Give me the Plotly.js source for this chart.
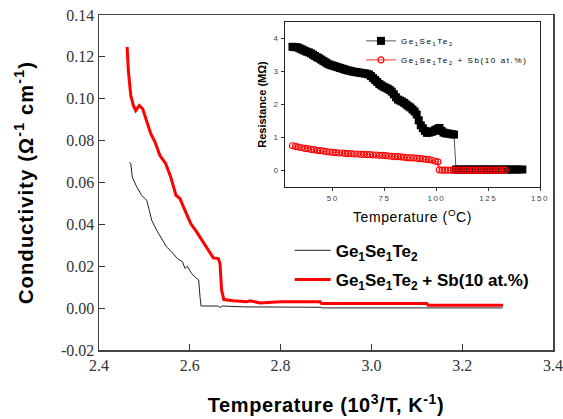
<!DOCTYPE html>
<html><head><meta charset="utf-8">
<script src="https://cdn.plot.ly/plotly-3.0.1.min.js"></script>
<style>
body{margin:0;background:#fff;}
.legend2 text{letter-spacing:1.6px;}
.legend2 .scrollbox,.legend .scrollbox{clip-path:none !important;}
.x2tick text,.y2tick text{letter-spacing:1.5px;}
.g-ytitle text{letter-spacing:1.2px;}
.g-xtitle text{letter-spacing:0.6px;}
.g-x2title text{letter-spacing:0.6px;}
</style>
</head><body>
<div id="chart" style="width:563px;height:419px;"></div>
<script>
// ---- main plot data (conductivity vs 10^3/T) ----
const seriesNames = ["Ge<sub>1</sub>Se<sub>1</sub>Te<sub>2</sub>", "Ge<sub>1</sub>Se<sub>1</sub>Te<sub>2</sub> + Sb(10 at.%)"];
const blackX = [2.4668,2.470,2.4734,2.483,2.494,2.505,2.5108,2.516,2.527,2.538,2.549,2.560,2.5725,2.584,2.5894,2.5945,2.604,2.615,2.6196,2.6225,2.6247,2.6628,2.6665,2.672,2.718,2.889,2.892,3.289];
const blackY = [0.0698,0.0690,0.0626,0.0579,0.0539,0.0515,0.0467,0.0420,0.0372,0.0332,0.0292,0.0269,0.0237,0.0221,0.0189,0.0200,0.0165,0.0142,0.0134,0.0054,0.0010,0.0010,0.0003,0.0010,0.0006,0.0004,0.0001,0.0001];
const redX = [2.462,2.4646,2.470,2.4756,2.481,2.4888,2.4962,2.505,2.514,2.5234,2.534,2.5469,2.558,2.5696,2.5784,2.5894,2.602,2.615,2.6297,2.6445,2.6518,2.6628,2.6665,2.670,2.675,2.696,2.725,2.7326,2.7546,2.799,2.887,2.89,3.122,3.125,3.29];
const redY = [0.1247,0.1135,0.1016,0.0968,0.0944,0.0968,0.0952,0.0889,0.0833,0.0793,0.0730,0.0690,0.0626,0.0539,0.0523,0.0467,0.0404,0.0364,0.0316,0.0269,0.0240,0.0237,0.0213,0.0086,0.0041,0.0035,0.0030,0.0035,0.0025,0.0030,0.0030,0.0022,0.0022,0.0014,0.0014];
const mainYTicks = [-0.02,0,0.02,0.04,0.06,0.08,0.10,0.12,0.14];
const mainYTickText = ["-0.02","0.00","0.02","0.04","0.06","0.08","0.10","0.12","0.14"];
// ---- inset data (resistance vs temperature) ----
const insetBlackX = [30.6,31.5,32.5,33.5,34.5,35.5,36.5,37.5,38.5,39.5,40.5,41.5,42.5,43.5,44.5,45.5,46.5,47.5,48.5,49.5,50.5,51.5,52.5,53.5,54.5,55.5,56.5,57.5,58.5,59.5,60.5,61.5,62.5,63.5,64.5,65.5,66.5,67.5,68.5,69.5,70.5,71.5,72.5,73.5,74.5,75.5,76.5,77.5,78.5,79.5,80.5,81.5,82.5,83.5,84.5,85.5,86.5,87.5,88.5,89.5,90.5,91.5,92.5,93.5,94.5,95.5,96.5,97.5,98.5,99.5,100.5,101.5,102.5,103.5,104.5,105.5,106.5,107.5,108.5,109.5,111,112.5,114,115.5,117,118.5,120,121.5,123,124.5,126,127.5,129,130.5,132,133.5,135,136.5,138,139.5,141.5];
const insetBlackY = [3.75,3.74,3.74,3.72,3.69,3.66,3.63,3.60,3.58,3.55,3.51,3.47,3.43,3.40,3.36,3.32,3.28,3.24,3.21,3.19,3.17,3.15,3.13,3.11,3.09,3.07,3.05,3.03,3.02,3.00,2.99,2.98,2.97,2.96,2.95,2.94,2.93,2.91,2.86,2.80,2.74,2.68,2.62,2.58,2.54,2.51,2.48,2.44,2.39,2.31,2.22,2.15,2.12,2.09,2.05,2.00,1.95,1.91,1.85,1.79,1.70,1.52,1.37,1.28,1.20,1.14,1.15,1.17,1.19,1.23,1.26,1.29,1.20,1.15,1.13,1.12,1.11,1.10,1.09,0.03,0.03,0.03,0.03,0.03,0.03,0.03,0.03,0.03,0.03,0.03,0.03,0.03,0.03,0.03,0.03,0.03,0.03,0.03,0.03,0.03,0.03];
const insetRedX = [30.6,32,33.5,35,36.5,38,39.5,41,42.5,44,45.5,47,48.5,50,51.5,53,54.5,56,57.5,59,60.5,62,63.5,65,66.5,68,69.5,71,72.5,74,75.5,77,78.5,80,81.5,83,84.5,86,87.5,89,90.5,92,93.5,95,96.5,98,99.5,100.8,101.4,102.8,104.2,105.6,107,108.4,109.8,111.2,112.6,114,115.4,116.8,118.2,119.6,121,122.4,123.8,125.2,126.6,128,129.4,130.8,132.2,133.2];
const insetRedY = [0.75,0.73,0.71,0.69,0.67,0.66,0.64,0.63,0.61,0.60,0.59,0.57,0.56,0.55,0.54,0.53,0.53,0.52,0.51,0.51,0.50,0.50,0.49,0.49,0.48,0.48,0.47,0.47,0.46,0.46,0.45,0.44,0.43,0.42,0.42,0.41,0.40,0.39,0.38,0.38,0.37,0.36,0.35,0.34,0.33,0.31,0.28,0.26,0.02,0.01,0.01,0.01,0.01,0.01,0.01,0.01,0.01,0.01,0.01,0.01,0.01,0.01,0.01,0.01,0.01,0.01,0.01,0.01,0.01,0.01,0.01,0.01];
const insetXTicks = [50, 75, 100, 125, 150];
const insetYTicks = [0, 1, 2, 3, 4];

const sans = "Arial";
const serif = "Times New Roman";

const traces = [
  {x: blackX, y: blackY, mode: 'lines', name: seriesNames[0], line: {color: '#222', width: 1}, legend: 'legend', legendgroup: 'a'},
  {x: redX, y: redY, mode: 'lines', name: seriesNames[1], line: {color: '#ff0000', width: 3}, legend: 'legend', legendgroup: 'b'},
  {x: insetBlackX, y: insetBlackY, xaxis: 'x2', yaxis: 'y2', mode: 'lines+markers', name: seriesNames[0],
   line: {color: '#555', width: 1}, marker: {symbol: 'square', size: 8, color: '#000'}, legend: 'legend2'},
  {x: insetRedX, y: insetRedY, xaxis: 'x2', yaxis: 'y2', mode: 'lines+markers', name: seriesNames[1],
   line: {color: '#ff3030', width: 1}, marker: {symbol: 'circle-open', size: 6, color: '#ff0000', line: {width: 1.2}}, legend: 'legend2'}
];

const layout = {
  width: 563, height: 419,
  margin: {l: 99, r: 10, t: 15, b: 69},
  paper_bgcolor: '#fff', plot_bgcolor: '#fff',
  showlegend: true,
  xaxis: {
    domain: [0, 1], range: [2.4, 3.4], dtick: 0.2, tick0: 2.4, tickformat: '.1f',
    ticks: 'inside', ticklen: 6, tickcolor: '#333', showgrid: false, zeroline: false,
    showline: true, linecolor: '#444', linewidth: 1.5, mirror: true,
    tickfont: {family: serif, size: 16, color: '#333'},
    title: {text: 'Temperature (10<sup>3</sup>/T, K<sup>-1</sup>)', font: {family: sans, size: 20, weight: 'bold', color: '#000'}, standoff: 25}
  },
  yaxis: {
    domain: [0, 1], range: [-0.02, 0.14], tickvals: mainYTicks, ticktext: mainYTickText,
    ticks: 'inside', ticklen: 6, tickcolor: '#333', showgrid: false, zeroline: false,
    showline: true, linecolor: '#444', linewidth: 1.5, mirror: true,
    tickfont: {family: serif, size: 16, color: '#333'},
    title: {text: 'Conductivity (Ω<sup>-1</sup> cm<sup>-1</sup>)', font: {family: sans, size: 20, weight: 'bold', color: '#000'}, standoff: 22}
  },
  xaxis2: {
    anchor: 'y2', domain: [0.4097, 0.9714], range: [27, 150], tickvals: insetXTicks,
    ticks: 'outside', ticklen: 3, tickcolor: '#333', showgrid: false, zeroline: false,
    showline: true, linecolor: '#222', linewidth: 1, mirror: true,
    tickfont: {family: sans, size: 8, color: '#444'},
    title: {text: 'Temperature (<sup>O</sup>C)', font: {family: sans, size: 14, color: '#000'}, standoff: 10}
  },
  yaxis2: {
    anchor: 'x2', domain: [0.4866, 0.979], range: [-0.5, 4.5], tickvals: insetYTicks,
    ticks: 'outside', ticklen: 3, tickcolor: '#333', showgrid: false, zeroline: false,
    showline: true, linecolor: '#222', linewidth: 1, mirror: true,
    tickfont: {family: sans, size: 8, color: '#444'},
    title: {text: 'Resistance (MΩ)', font: {family: sans, size: 11, weight: 'bold', color: '#000'}, standoff: 4}
  },
  legend: {
    x: 0.42, y: 0.35, xanchor: 'left', yanchor: 'top', bgcolor: 'rgba(0,0,0,0)',
    font: {family: sans, size: 17, weight: 'bold', color: '#000'}, tracegroupgap: 4,
    traceorder: 'grouped', itemwidth: 36
  },
  legend2: {
    x: 0.577, y: 0.966, xanchor: 'left', yanchor: 'top', bgcolor: 'rgba(0,0,0,0)',
    font: {family: sans, size: 8, color: '#000'}, tracegroupgap: 0
  }
};

Plotly.newPlot('chart', traces, layout, {displayModeBar: false, staticPlot: true});
</script>
</body></html>
